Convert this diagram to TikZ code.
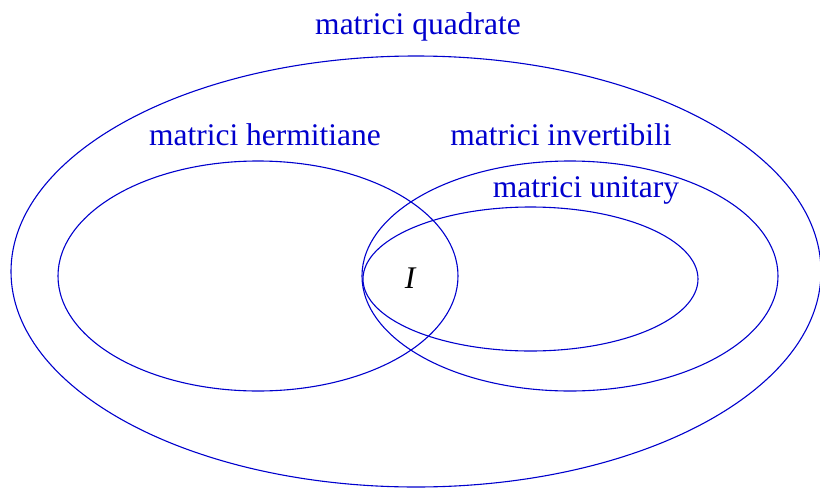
\documentclass[tikz,border=0pt]{standalone}
\usepackage{fontspec}
\setmainfont{Liberation Serif}
\usepackage{xcolor}
\usepackage{tikz}

\definecolor{setblue}{RGB}{0,0,205}

\begin{document}
\begin{tikzpicture}[x=1pt, y=-1pt,
    setline/.style={setblue, line width=1.1pt},
    setlabel/.style={setblue, font=\fontsize{31.5}{36}\selectfont, inner sep=0pt}]
    \useasboundingbox (0,0) rectangle (820,488);

    % Outer set: all square matrices
    \draw[setline] (416,271.5) ellipse [x radius=405pt, y radius=215.5pt];
    \node[setlabel] (quadrate) at (418,27) {matrici quadrate};

    % Hermitian and invertible matrices
    \draw[setline] (258,276) ellipse [x radius=200pt, y radius=115pt];
    \node[setlabel] (hermitiane) at (265,135) {matrici hermitiane};
    \draw[setline] (570,276) ellipse [x radius=208pt, y radius=115pt];
    \node[setlabel] (invertibili) at (561,135) {matrici invertibili};

    % Unitary matrices, inside the invertible ones
    \draw[setline] (530.5,279) ellipse [x radius=167.5pt, y radius=72pt];
    \node[setlabel] (unitary) at (586,190) {matrici unitary};

    % Identity in the common part
    \node[font=\fontsize{31.5}{36}\selectfont\itshape, inner sep=0pt] (ident) at (410,278) {I};
\end{tikzpicture}
\end{document}
